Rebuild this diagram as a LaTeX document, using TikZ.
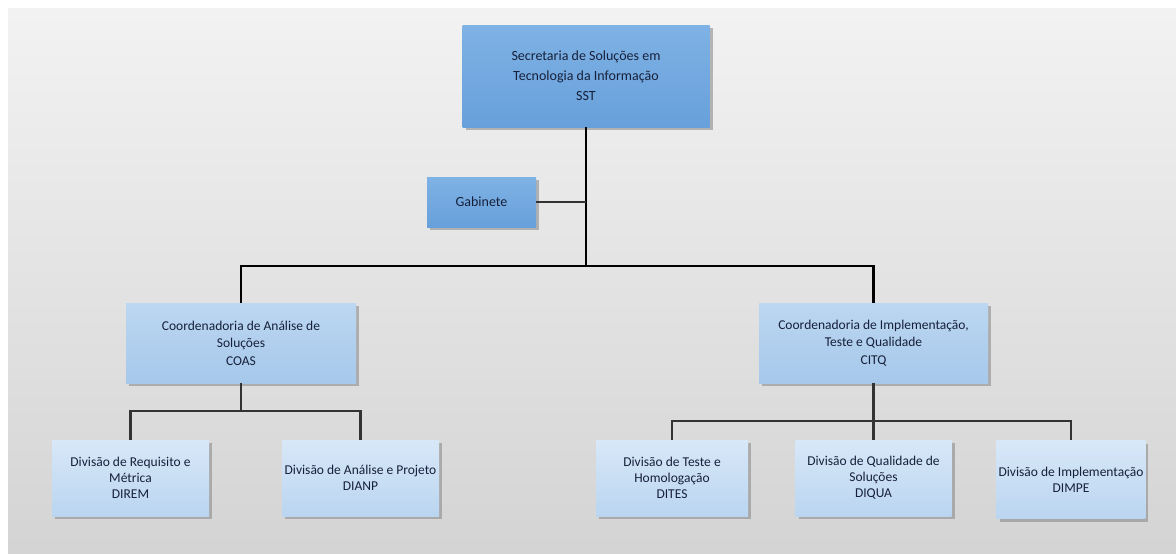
\documentclass[tikz,border=0pt]{standalone}
\usepackage{fontspec}
\setmainfont{Carlito}
\usetikzlibrary{shadows}

\definecolor{boxdark}{HTML}{7FB2E5}
\definecolor{boxdarkb}{HTML}{67A0DA}
\definecolor{boxmid}{HTML}{BCD7F1}
\definecolor{boxmidb}{HTML}{A6C8EB}
\definecolor{boxlight}{HTML}{D8E8F8}
\definecolor{boxlightb}{HTML}{BAD5F0}
\definecolor{boxtext}{HTML}{17203A}

\tikzset{
  unit/.style={align=center, text=boxtext, inner sep=2pt,
    drop shadow={shadow xshift=3pt, shadow yshift=-3pt, fill=black!45, opacity=.6}},
  topunit/.style={unit, top color=boxdark, bottom color=boxdarkb,
    font=\fontsize{14}{20}\selectfont},
  midunit/.style={unit, top color=boxmid, bottom color=boxmidb,
    font=\fontsize{13.5}{17.5}\selectfont},
  lowunit/.style={unit, top color=boxlight, bottom color=boxlightb,
    font=\fontsize{13.5}{16}\selectfont},
  mainline/.style={line width=2.6pt, black},
  subline/.style={line width=2.3pt, black!80}
}

\begin{document}
\begin{tikzpicture}[x=1pt,y=-1pt]

\useasboundingbox (0,0) rectangle (1176,554);
\fill[top color=black!5, bottom color=black!17] (8,8) rectangle (1176,554);

%drawing boxes
\node[topunit, minimum width=247pt, minimum height=102pt] (sst) at (586,76)
  {Secretaria de Soluções em\\Tecnologia da Informação\\SST};
\node[topunit, minimum width=109pt, minimum height=50pt] (gab) at (481.5,202) {Gabinete};

\node[midunit, minimum width=230pt, minimum height=80pt] (coas) at (241,343)
  {Coordenadoria de Análise de\\Soluções\\COAS};
\node[midunit, minimum width=229pt, minimum height=80pt] (citq) at (873.5,343)
  {Coordenadoria de Implementação,\\Teste e Qualidade\\CITQ};

\node[lowunit, minimum width=157pt, minimum height=76pt] (direm) at (130.5,478)
  {Divisão de Requisito e\\Métrica\\DIREM};
\node[lowunit, minimum width=157pt, minimum height=76pt] (dianp) at (360.5,478)
  {Divisão de Análise e Projeto\\DIANP};
\node[lowunit, minimum width=152pt, minimum height=76pt] (dites) at (672,478)
  {Divisão de Teste e\\Homologação\\DITES};
\node[lowunit, minimum width=156pt, minimum height=76pt] (diqua) at (873.5,478)
  {Divisão de Qualidade de\\Soluções\\DIQUA};
\node[lowunit, minimum width=148pt, minimum height=78pt] (dimpe) at (1071,479.5)
  {Divisão de Implementação\\DIMPE};

%junction points
\coordinate (hub) at (586,266);
\coordinate (coasbar) at (241,411);
\coordinate (citqbar) at (873.5,421);

%connecting them
\draw[mainline] (sst.south) -- (hub);
\draw[mainline] (coas.north) |- (hub) -| (citq.north);
\draw[subline] (gab.east) -- (gab.east -| sst.south);

\draw[subline] (coas.south) -- (coasbar);
\draw[subline] (direm.north) |- (coasbar) -| (dianp.north);

\draw[subline] (citq.south) -- (diqua.north);
\draw[subline] (dites.north) |- (citqbar) -| (dimpe.north);

\end{tikzpicture}
\end{document}
